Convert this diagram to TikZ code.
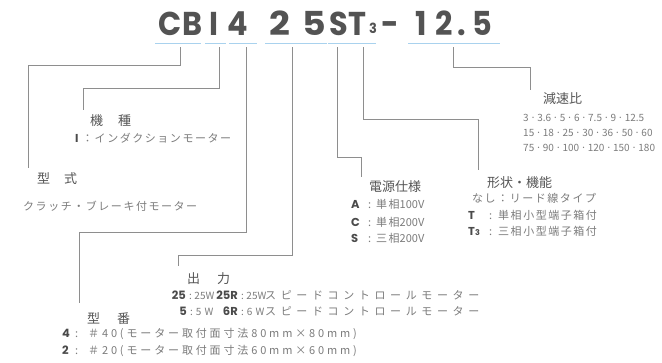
\documentclass[tikz,border=0pt]{standalone}
\usepackage{fontspec}
\setmainfont{Noto Sans CJK JP}
\newfontfamily\jp{Noto Sans CJK JP}[LetterSpace=14]
\newfontfamily\jpw{Noto Sans CJK JP}[LetterSpace=42]
\newfontfamily\jpm{Noto Sans CJK JP}[LetterSpace=26]
\newfontfamily\jph{Noto Sans CJK JP}
\newfontfamily\ttl{Poppins}
\definecolor{ttlc}{HTML}{535353}
\definecolor{keyc}{HTML}{4A4A4A}
\definecolor{txt}{HTML}{7C7C7C}
\definecolor{hdc}{HTML}{555555}
\definecolor{lnc}{HTML}{8E8E8E}
\definecolor{ulc}{HTML}{A9D2EE}
\tikzset{
  ttl/.style={font=\ttl\bfseries\fontsize{33}{33}\selectfont, text=ttlc, inner sep=0, anchor=base, xscale=0.92},
  ttlw/.style={ttl, xscale=1.2},
  head/.style={font=\jph\fontsize{13}{13}\selectfont, text=hdc, inner sep=0, anchor=base west},
  body/.style={font=\jp\fontsize{11}{11}\selectfont, text=txt, inner sep=0, anchor=base west},
  plain/.style={font=\jph\fontsize{11}{11}\selectfont, text=txt, inner sep=0, anchor=base west},
  small/.style={font=\jph\fontsize{10}{10}\selectfont, text=txt, inner sep=0, anchor=base west},
  bodyw/.style={font=\jpw\fontsize{11}{11}\selectfont, text=txt, inner sep=0, anchor=base west},
  bodym/.style={font=\jpm\fontsize{11}{11}\selectfont, text=txt, inner sep=0, anchor=base west},
  num/.style={font=\jph\fontsize{10}{10}\selectfont, text=txt, inner sep=0, anchor=base west},
  key/.style={font=\ttl\bfseries\fontsize{11.5}{11.5}\selectfont, text=keyc, inner sep=0, anchor=base west},
  keye/.style={key, anchor=base east},
  conn/.style={draw=lnc, line width=1pt},
  uline/.style={draw=ulc, line width=1pt}
}
\newcommand{\md}{\hspace{1.5pt}·\hspace{1.5pt}}
\begin{document}
\begin{tikzpicture}[x=1pt,y=-1pt]
\useasboundingbox (0,0) rectangle (662,362);
\fill[white] (0,0) rectangle (662,362);

% title, letter by letter
\node[ttl] (tC) at (170,35) {C};
\node[ttl] (tB) at (193,35) {B};
\node[ttl] (tI) at (213.5,35) {I};
\node[ttl] (t4) at (238,35) {4};
\node[ttlw] (t2a) at (280,35) {2};
\node[ttlw] (t5a) at (314,35) {5};
\node[ttl] (tS) at (338.5,35) {S};
\node[ttl] (tT) at (357.5,35) {T};
\node[ttl, font=\ttl\bfseries\fontsize{14}{14}\selectfont] (t3) at (373,33) {3};
\node[ttl] (tdash) at (390,35) {-};
\node[ttl] (t1) at (421,35) {1};
\node[ttl] (t2b) at (444,35) {2};
\node[ttl] (tdot) at (462,35) {.};
\node[ttl] (t5b) at (482.5,35) {5};

% underlines
\draw[uline] (155,43) -- (201,43);
\draw[uline] (205,43) -- (226,43);
\draw[uline] (229,43) -- (257,43);
\draw[uline] (265,43) -- (327,43);
\draw[uline] (328,43) -- (376,43);
\draw[uline] (408,43) -- (500,43);

% connector coordinates
\coordinate (aCB) at (180,47);
\coordinate (aI) at (219,47);
\coordinate (a4) at (246,47);
\coordinate (a25) at (292,47);
\coordinate (aS) at (337,47);
\coordinate (aT) at (363,47);
\coordinate (aR) at (453,47);
\coordinate (eCB) at (28,168);
\coordinate (eI) at (83,110);
\coordinate (e4) at (79,303);
\coordinate (e25) at (178,266);
\coordinate (eS) at (361,177);
\coordinate (eT) at (478,170);
\coordinate (eR) at (530,90);

\draw[conn] (aCB) -- (180,65) -| (eCB);
\draw[conn] (aI) -- (219,88) -| (eI);
\draw[conn] (a4) -- (246,232) -| (e4);
\draw[conn] (a25) -- (292,255) -| (e25);
\draw[conn] (aS) -- (337,157) -| (eS);
\draw[conn] (aT) -- (363,119) -| (eT);
\draw[conn] (aR) -- (453,67) -| (eR);

% 機種
\node[head] (hKishu) at (90,125) {機\hspace{15pt}種};
\node[key] (kI) at (75,142) {I};
\node[body] (tIx) at (82,142) {：インダクションモーター};

% 型式
\node[head] (hKeishiki) at (37,183) {型\hspace{14pt}式};
\node[body] (tKeishiki) at (23,210) {クラッチ・ブレーキ付モーター};

% 出力
\node[head] (hOut) at (187,283) {出\hspace{17pt}力};
\node[keye] (k25) at (186,299) {25};
\node[small] (t25) at (189,299) {:\hspace{2.5pt}25W};
\node[keye] (k25R) at (238,299) {25R};
\node[small] (c25R) at (241,299) {:\hspace{2.5pt}25W};
\node[bodyw] (t25R) at (265,299) {スピードコントロールモーター};
\node[keye] (k5) at (187,315) {5};
\node[small] (t5) at (190,315) {:\hspace{3pt}5\hspace{3pt}W};
\node[keye] (k6R) at (238,315) {6R};
\node[small] (c6R) at (241,315) {:\hspace{3pt}6\hspace{3pt}W};
\node[bodyw] (t6R) at (265,315) {スピードコントロールモーター};

% 型番
\node[head] (hBan) at (87,323) {型\hspace{17pt}番};
\node[key] (k4) at (62,337) {4};
\node[plain] (c4) at (75,337) {:};
\node[bodym] (t4) at (88,337) {＃40(モーター取付面寸法80mm×80mm)};
\node[key] (k2) at (62,354) {2};
\node[plain] (c2) at (75,354) {:};
\node[bodym] (t2) at (88,354) {＃20(モーター取付面寸法60mm×60mm)};

% 電源仕様
\node[head] (hPow) at (369,191) {電源仕様};
\node[key] (kA) at (351,208) {A};
\node[plain] (cA) at (368,208) {:};
\node[body] (tA) at (376,208) {単相{\jph 100V}};
\node[key] (kC) at (351,226) {C};
\node[plain] (cC) at (368,226) {:};
\node[body] (tC) at (376,226) {単相{\jph 200V}};
\node[key] (kS) at (351,242) {S};
\node[plain] (cS) at (368,242) {:};
\node[body] (tS) at (376,242) {三相{\jph 200V}};

% 形状・機能
\node[head] (hShape) at (487,187) {形状・機能};
\node[body] (tNashi) at (472,202) {なし：リード線タイプ};
\node[key] (kT) at (468,219) {T};
\node[plain] (cT) at (489,219) {:};
\node[body] (tT) at (498,219) {単相小型端子箱付};
\node[key] (kT3) at (468,235) {T{\fontsize{8}{8}\selectfont 3}};
\node[plain] (cT3) at (489,235) {:};
\node[body] (tT3) at (498,235) {三相小型端子箱付};

% 減速比
\node[head] (hRatio) at (543,103) {減速比};
\node[num] (n1) at (523,121) {3\md 3.6\md 5\md 6\md 7.5\md 9\md 12.5};
\node[num] (n2) at (523,136) {15\md 18\md 25\md 30\md 36\md 50\md 60};
\node[num] (n3) at (523,151) {75\md 90\md 100\md 120\md 150\md 180};
\end{tikzpicture}
\end{document}
